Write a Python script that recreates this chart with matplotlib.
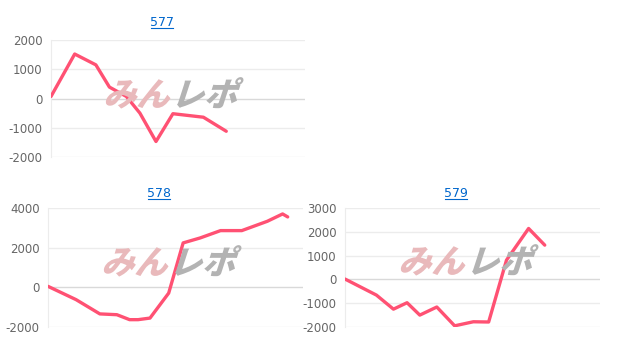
import matplotlib
matplotlib.use("Agg")
import matplotlib.pyplot as plt
from matplotlib.textpath import TextPath
from matplotlib.patches import PathPatch
from matplotlib.font_manager import FontProperties
from matplotlib.transforms import Affine2D

# chart data (x = position along the period, y = balance)
titles = ["577", "578", "579"]
x577 = [0, 2.8, 5.3, 6.9, 8.9, 10.5, 12.4, 14.4, 18.0, 20.7]
y577 = [70, 1520, 1150, 390, 70, -500, -1470, -520, -640, -1120]
x578 = [0, 3.3, 6.1, 8.1, 9.6, 10.6, 12.0, 14.2, 15.9, 17.9, 20.3, 22.8, 25.8, 27.6, 28.2]
y578 = [50, -620, -1340, -1380, -1630, -1630, -1550, -290, 2240, 2490, 2860, 2860, 3330, 3700, 3550]
x579 = [0, 3.7, 5.7, 7.3, 8.8, 10.8, 12.9, 15.1, 16.9, 19.0, 21.6, 23.5]
y579 = [15, -660, -1250, -980, -1500, -1160, -1950, -1780, -1790, 810, 2140, 1440]
yticks577 = [-2000, -1000, 0, 1000, 2000]
yticks578 = [-2000, 0, 2000, 4000]
yticks579 = [-2000, -1000, 0, 1000, 2000, 3000]

W, H = 619, 359
fig = plt.figure(figsize=(W / 100, H / 100), dpi=100)

LINE = "#ff5173"
GRID = "#ececec"


def make_axes(left, right, top, bottom):
    ax = fig.add_axes([left / W, 1 - bottom / H, (right - left) / W, (bottom - top) / H])
    ax.set_facecolor("none")
    return ax


def style(ax, xs, ys, ticks):
    ax.plot(xs, ys, color=LINE, lw=2.4, solid_capstyle="round", solid_joinstyle="round", zorder=3)
    ax.set_xlim(0, 30)
    ax.set_ylim(ticks[0], ticks[-1])
    ax.set_yticks(ticks)
    ax.set_yticklabels([str(t) for t in ticks])
    ax.set_xticks([])
    for t in ticks:
        ax.axhline(t, color="#d9d9d9" if t == 0 else GRID, lw=1, zorder=1)
    for s in ["top", "right", "bottom"]:
        ax.spines[s].set_visible(False)
    ax.spines["left"].set_color(GRID)
    ax.tick_params(axis="y", length=0, pad=6, labelsize=8.5, labelcolor="#666666")


def title(txt, cx, cy):
    fig.text(cx / W, 1 - cy / H, txt, ha="center", va="baseline", color="#0066cc", fontsize=9)
    fig.add_artist(plt.Line2D([(cx - 11) / W, (cx + 11) / W], [1 - (cy + 2) / H] * 2,
                              color="#0066cc", lw=0.8))


def watermark(x, y, size):
    fp = FontProperties(family="Noto Sans CJK JP", weight="black")
    for txt, col, dx in [("みん", "#e9b9bb", 0), ("レポ", "#b3b3b3", size * 2.05)]:
        path = TextPath((0, 0), txt, size=size, prop=fp)
        tr = Affine2D().skew_deg(18, 0).translate(x + dx, H - y).scale(1 / W, 1 / H) + fig.transFigure
        fig.patches.append(PathPatch(path, transform=tr, facecolor=col, edgecolor="none", zorder=0))


watermark(103, 106, 33)
watermark(101, 274, 33)
watermark(398, 273, 33)

ax1 = make_axes(51, 305, 40, 157)
style(ax1, x577, y577, yticks577)
ax2 = make_axes(48, 303, 208, 327)
style(ax2, x578, y578, yticks578)
ax3 = make_axes(345, 600, 208, 327)
style(ax3, x579, y579, yticks579)

title(titles[0], 162, 26)
title(titles[1], 159, 197)
title(titles[2], 456, 197)

fig.savefig("out.png", dpi=100)
